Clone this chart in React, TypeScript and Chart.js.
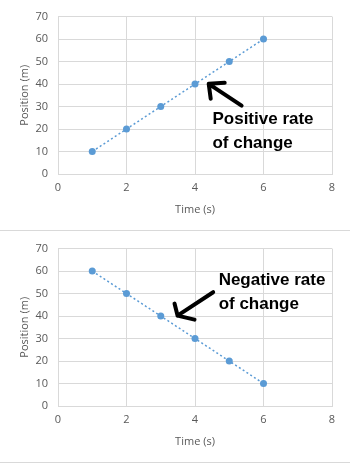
import React, { useEffect, useRef } from "react";
import { Chart, registerables } from "chart.js";

Chart.register(...registerables);

// ---- data ----
const timeValues = [1, 2, 3, 4, 5, 6];
const positionUp = [10, 20, 30, 40, 50, 60];
const positionDown = [60, 50, 40, 30, 20, 10];
const xTickStep = 2;
const yTickStep = 10;
const xMax = 8;
const yMax = 70;
const xTitle = "Time (s)";
const yTitle = "Position (m)";
const noteUp = ["Positive rate", "of change"];
const noteDown = ["Negative rate", "of change"];

// annotation anchors (data coordinates)
const noteUpText = { x: 4.51, y: [22.2, 11.6] };
const noteUpArrow = { tip: [4.4, 40.1], tail: [5.36, 30.4] };
const noteDownText = { x: 4.69, y: [53.6, 43.2] };
const noteDownArrow = { tip: [3.49, 40.2], tail: [4.53, 50.6] };

const GRID = "#D9D9D9";
const TEXT = "#595959";
const BLUE = "#5B9BD5";
const FONT = "'Open Sans', 'Noto Sans', sans-serif";

type Note = {
  lines: string[];
  text: { x: number; y: number[] };
  arrow: { tip: number[]; tail: number[] };
  barbs: number[][];
};

const notePlugin = {
  id: "notes",
  afterDatasetsDraw(chart: any, _args: any, opts: any) {
    const note: Note = opts.note;
    if (!note) return;
    const { ctx, scales } = chart;
    const xs = scales.x;
    const ys = scales.y;
    ctx.save();
    ctx.fillStyle = "#000";
    ctx.font = "bold 17px 'Liberation Sans', Arial, sans-serif";
    ctx.textBaseline = "alphabetic";
    ctx.textAlign = "left";
    note.lines.forEach((l, i) => {
      ctx.fillText(l, xs.getPixelForValue(note.text.x), ys.getPixelForValue(note.text.y[i]));
    });
    const tx = xs.getPixelForValue(note.arrow.tip[0]);
    const ty = ys.getPixelForValue(note.arrow.tip[1]);
    const lx = xs.getPixelForValue(note.arrow.tail[0]);
    const ly = ys.getPixelForValue(note.arrow.tail[1]);
    ctx.strokeStyle = "#000";
    ctx.lineWidth = 4;
    ctx.lineCap = "round";
    ctx.lineJoin = "round";
    ctx.beginPath();
    ctx.moveTo(lx, ly);
    ctx.lineTo(tx, ty);
    note.barbs.forEach((b) => {
      ctx.moveTo(tx, ty);
      ctx.lineTo(tx + b[0], ty + b[1]);
    });
    ctx.stroke();
    ctx.restore();
  },
};

function makeConfig(values: number[], note: Note, topPad: number): any {
  return {
    type: "scatter",
    data: {
      datasets: [
        {
          data: timeValues.map((t, i) => ({ x: t, y: values[i] })),
          showLine: true,
          borderColor: BLUE,
          backgroundColor: BLUE,
          borderWidth: 1.5,
          borderDash: [2, 2.5],
          pointRadius: 3.5,
          pointBorderWidth: 0,
          pointBackgroundColor: BLUE,
        },
      ],
    },
    options: {
      responsive: false,
      animation: false,
      layout: { padding: { left: 0, right: 18, top: topPad, bottom: 0 } },
      plugins: {
        legend: { display: false },
        tooltip: { enabled: false },
        notes: { note },
      },
      scales: {
        x: {
          type: "linear",
          min: 0,
          max: xMax,
          ticks: { stepSize: xTickStep, color: TEXT, font: { family: FONT, size: 11 }, padding: 7 },
          grid: { color: GRID, drawTicks: false },
          border: { color: GRID },
          title: { display: true, text: xTitle, color: TEXT, font: { family: FONT, size: 11 }, padding: { top: 0, bottom: 14 } },
          afterFit: (s: any) => { s.height = 56; },
        },
        y: {
          type: "linear",
          min: 0,
          max: yMax,
          ticks: { stepSize: yTickStep, color: TEXT, font: { family: FONT, size: 11 }, padding: 10 },
          grid: { color: GRID, drawTicks: false },
          border: { color: GRID },
          title: { display: true, text: yTitle, color: TEXT, font: { family: FONT, size: 11 }, padding: { top: 18, bottom: 0 } },
          afterFit: (s: any) => { s.width = 58; },
        },
      },
    },
    plugins: [notePlugin],
  };
}

function ChartBox({ values, note, topPad, top }: { values: number[]; note: Note; topPad: number; top: number }) {
  const ref = useRef<HTMLCanvasElement>(null);
  useEffect(() => {
    if (!ref.current) return;
    const c = new Chart(ref.current, makeConfig(values, note, topPad));
    return () => c.destroy();
  }, []);
  return (
    <div style={{ position: "absolute", left: 0, top, width: 350, height: 230 }}>
      <canvas ref={ref} width={350} height={230} style={{ display: "block" }} />
    </div>
  );
}

export default function App() {
  return (
    <div style={{ position: "absolute", left: 0, top: 0, width: 350, height: 464, background: "#fff", overflow: "hidden" }}>
      <ChartBox
        values={positionUp}
        top={0}
        topPad={15}
        note={{ lines: noteUp, text: noteUpText, arrow: noteUpArrow, barbs: [[16, -1], [2, 15]] }}
      />
      <div style={{ position: "absolute", left: 0, top: 230, width: 350, height: 1, background: GRID }} />
      <ChartBox
        values={positionDown}
        top={232}
        topPad={12}
        note={{ lines: noteDown, text: noteDownText, arrow: noteDownArrow, barbs: [[-3, -12], [17, 4]] }}
      />
      <div style={{ position: "absolute", left: 0, top: 462, width: 350, height: 1, background: GRID }} />
    </div>
  );
}
